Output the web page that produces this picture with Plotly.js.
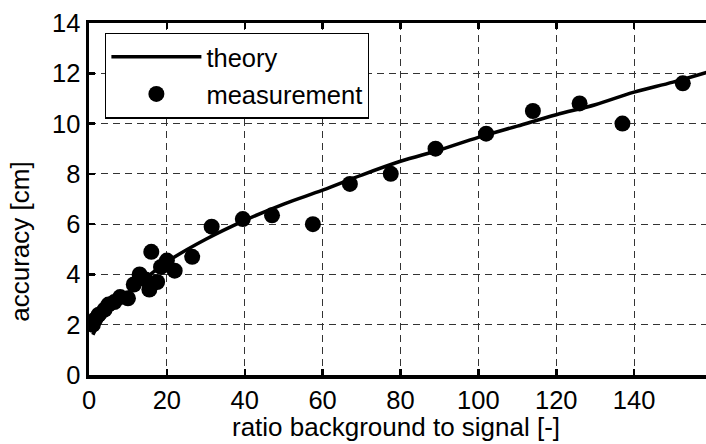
<!DOCTYPE html>
<html><head><meta charset="utf-8">
<script src="https://cdn.plot.ly/plotly-3.0.1.min.js"></script>
<style>html,body{margin:0;padding:0;overflow:hidden;background:#fff;width:706px;height:444px}</style>
</head><body>
<div id="chart" style="width:716px;height:444px"></div>
<script>
const theoryX = [1, 2, 5, 10, 15, 20, 30, 40, 50, 60, 70, 80, 90, 100, 110, 120, 130, 140, 150, 160];
const theoryY = [1.6, 1.9, 2.5, 3.25, 3.9, 4.5, 5.4, 6.15, 6.8, 7.35, 7.95, 8.5, 8.95, 9.45, 9.9, 10.35, 10.75, 11.25, 11.65, 12.1];
const measX = [1.0, 1.5, 2.5, 4, 5, 6.5, 8, 10, 11.5, 13, 14.5, 15.5, 16, 17.5, 18.5, 20, 22, 26.5, 31.5, 39.5, 47, 57.5, 67, 77.5, 89, 102, 114, 126, 137, 152.5];
const measY = [2.0, 2.2, 2.4, 2.6, 2.8, 2.9, 3.1, 3.05, 3.6, 4.0, 3.8, 3.4, 4.9, 3.7, 4.3, 4.55, 4.15, 4.7, 5.9, 6.2, 6.35, 6.0, 7.6, 8.0, 9.0, 9.6, 10.5, 10.8, 10.0, 11.6];
const xTicks = [0, 20, 40, 60, 80, 100, 120, 140, 160];
const yTicks = [0, 2, 4, 6, 8, 10, 12, 14];
const xTitle = 'ratio background to signal [-]';
const yTitle = 'accuracy [cm]';

const F = 'Liberation Sans, Arial, sans-serif';
const traces = [
  {x: theoryX, y: theoryY, mode: 'lines', name: 'theory', legendgroup: 'a', line: {color: '#000', width: 3.5, shape: 'spline'}},
  {x: measX, y: measY, mode: 'markers', name: 'measurement', legendgroup: 'b', marker: {color: '#000', size: 16}}
];
const axCommon = {
  showline: true, linecolor: '#000', linewidth: 3.5, mirror: 'ticks',
  ticks: 'inside', ticklen: 6, tickwidth: 2.5, tickcolor: '#000',
  showgrid: true, gridcolor: '#333', gridwidth: 1, griddash: '7px,5px',
  zeroline: false, tickfont: {family: F, size: 25.5, color: '#000'}
};
const layout = {
  width: 716, height: 444,
  margin: {l: 88.5, r: 3.5, t: 23, b: 69},
  paper_bgcolor: '#fff', plot_bgcolor: '#fff',
  showlegend: true,
  legend: {x: 0.026, y: 0.973, xanchor: 'left', yanchor: 'top', bgcolor: '#fff', bordercolor: '#000', borderwidth: 1.2,
           font: {family: F, size: 25.5, color: '#000'}, itemwidth: 90, traceorder: 'grouped', tracegroupgap: 1},
  xaxis: Object.assign({}, axCommon, {range: [0, 160], tickvals: xTicks, ticktext: xTicks.map(String)}),
  yaxis: Object.assign({}, axCommon, {range: [0, 14], tickvals: yTicks, ticktext: yTicks.map(String)}),
  annotations: [
    {text: yTitle, xref: 'paper', yref: 'paper', x: -0.11, y: 0.38, xanchor: 'center', yanchor: 'middle',
     textangle: -90, showarrow: false, font: {family: F, size: 26, color: '#000'}},
    {text: xTitle, xref: 'paper', yref: 'paper', x: 0.493, y: -0.149, xanchor: 'center', yanchor: 'middle',
     showarrow: false, font: {family: F, size: 26, color: '#000'}}
  ]
};
Plotly.newPlot('chart', traces, layout, {staticPlot: true, displayModeBar: false});
</script>
</body></html>
